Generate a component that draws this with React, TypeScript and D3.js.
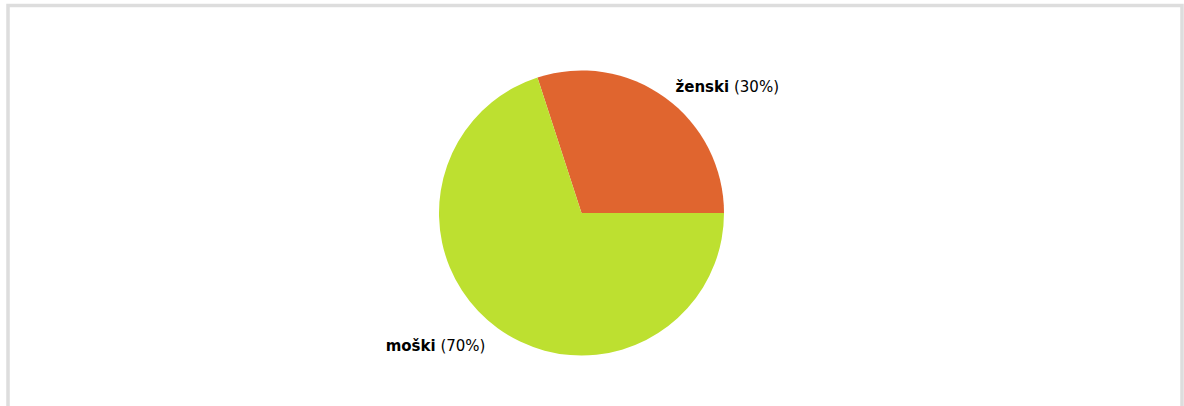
import React from "react";
import * as d3 from "d3";

const categories = ["ženski", "moški"];
const values = [30, 70];
const colors = ["#E0652F", "#BDE030"];

export default function App() {
  const width = 1184;
  const height = 406;
  const cx = 581.5;
  const cy = 213;
  const r = 142.5;
  const total = d3.sum(values);
  const startOffset = -(values[0] / total) * 2 * Math.PI + Math.PI / 2;
  const pie = d3
    .pie<number>()
    .sort(null)
    .startAngle(startOffset)
    .endAngle(startOffset + 2 * Math.PI)(values);
  const arc = d3.arc<d3.PieArcDatum<number>>().innerRadius(0).outerRadius(r);
  return (
    <svg
      width={width}
      height={height}
      style={{ position: "absolute", left: 0, top: 0 }}
    >
      <rect x={0} y={0} width={width} height={height} fill="#fff" />
      <rect
        x={8}
        y={5.5}
        width={1174}
        height={420}
        fill="none"
        stroke="#dddddd"
        strokeWidth={3.5}
      />
      <g transform={`translate(${cx},${cy})`}>
        {pie.map((d, i) => (
          <path key={i} d={arc(d) || ""} fill={colors[i]} />
        ))}
        {pie.map((d, i) => {
          const mid = (d.startAngle + d.endAngle) / 2;
          const lr = 160;
          const x = lr * Math.sin(mid);
          const y = -lr * Math.cos(mid);
          const pct = Math.round((d.value / total) * 100);
          return (
            <text
              key={"l" + i}
              x={x >= 0 ? x : x - 2}
              y={y + 8.5}
              textAnchor={x >= 0 ? "start" : "end"}
              fontFamily="DejaVu Sans, Verdana, sans-serif"
              fontSize={15}
              fill="#000"
            >
              <tspan fontWeight="bold">{categories[i]}</tspan>
              <tspan> ({pct}%)</tspan>
            </text>
          );
        })}
      </g>
    </svg>
  );
}
